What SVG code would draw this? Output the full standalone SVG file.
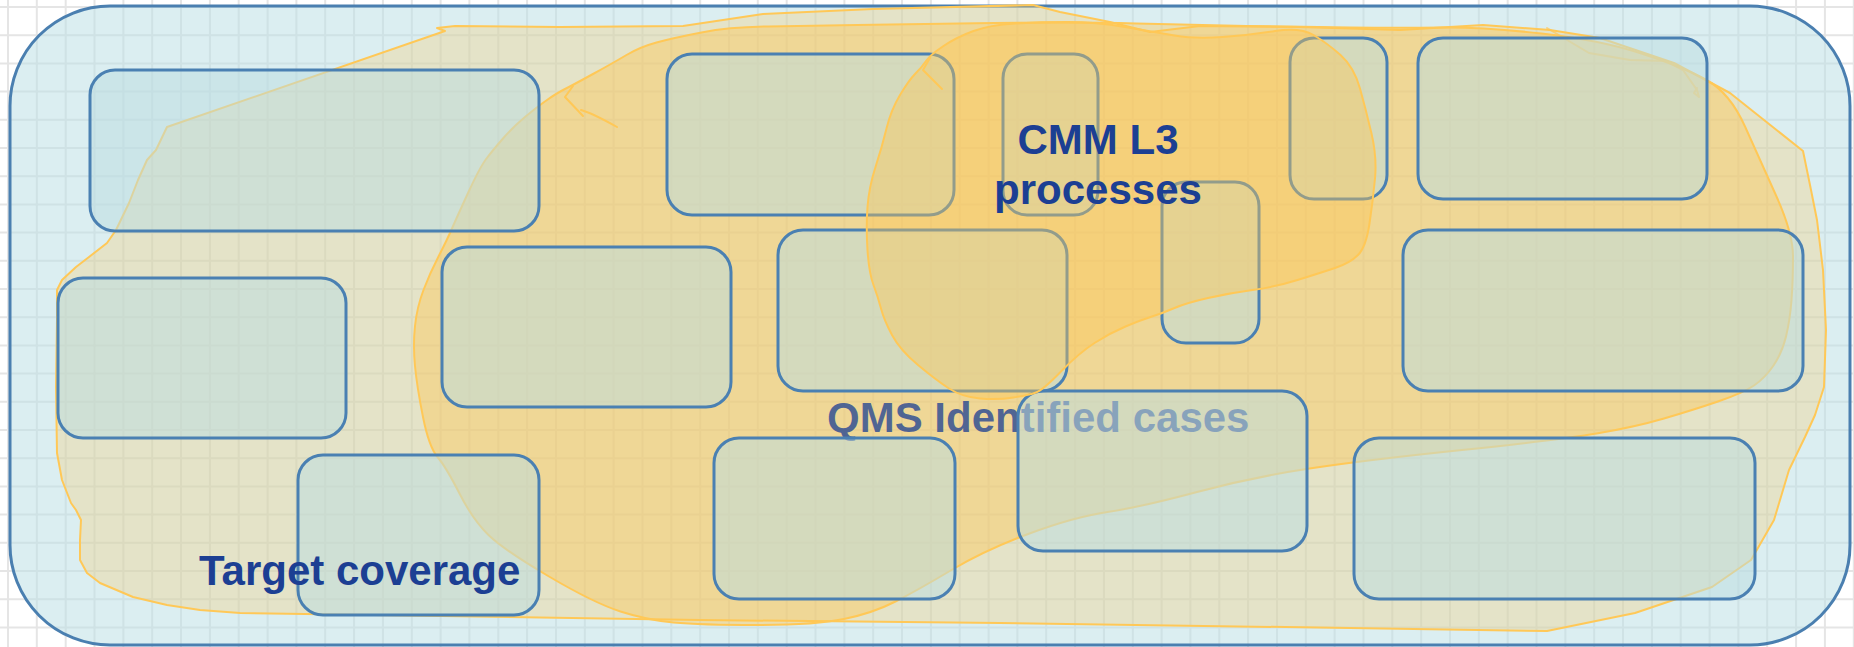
<svg xmlns="http://www.w3.org/2000/svg" width="1854" height="647" viewBox="0 0 1854 647">
<style>
.grid{fill:none;stroke:#e5e5e5;stroke-width:2}
.container{fill:#badee4;fill-opacity:0.52;stroke:#4a7fb0;stroke-width:3}
.node{fill:#bcdde0;fill-opacity:0.52;stroke:#4a80b2;stroke-width:3}
.blob{fill:#ffc550;stroke:#ffc857;stroke-width:2;stroke-linejoin:round;stroke-linecap:round}
.line{fill:none;stroke:#ffc857;stroke-width:2;stroke-linejoin:round;stroke-linecap:round}
.lbl{font-family:"Liberation Sans",Arial,sans-serif;font-weight:bold;font-size:42px;fill:#1c3f93}
</style>
<rect width="1854" height="647" fill="#ffffff"/>
<path class="grid" d="M8 0V647M36.8 0V647M65.7 0V647M94.5 0V647M123.4 0V647M152.2 0V647M181 0V647M209.9 0V647M238.7 0V647M267.6 0V647M296.4 0V647M325.2 0V647M354.1 0V647M382.9 0V647M411.8 0V647M440.6 0V647M469.4 0V647M498.3 0V647M527.1 0V647M556 0V647M584.8 0V647M613.6 0V647M642.5 0V647M671.3 0V647M700.2 0V647M729 0V647M757.8 0V647M786.7 0V647M815.5 0V647M844.4 0V647M873.2 0V647M902 0V647M930.9 0V647M959.7 0V647M988.6 0V647M1017.4 0V647M1046.2 0V647M1075.1 0V647M1103.9 0V647M1132.8 0V647M1161.6 0V647M1190.4 0V647M1219.3 0V647M1248.1 0V647M1277 0V647M1305.8 0V647M1334.6 0V647M1363.5 0V647M1392.3 0V647M1421.2 0V647M1450 0V647M1478.8 0V647M1507.7 0V647M1536.5 0V647M1565.4 0V647M1594.2 0V647M1623 0V647M1651.9 0V647M1680.7 0V647M1709.6 0V647M1738.4 0V647M1767.2 0V647M1796.1 0V647M1824.9 0V647M1853.8 0V647
M0 7H1854M0 35.2H1854M0 63.4H1854M0 91.6H1854M0 119.8H1854M0 148H1854M0 176.2H1854M0 204.4H1854M0 232.6H1854M0 260.8H1854M0 289H1854M0 317.2H1854M0 345.4H1854M0 373.6H1854M0 401.8H1854M0 430H1854M0 458.2H1854M0 486.4H1854M0 514.6H1854M0 542.8H1854M0 571H1854M0 599.2H1854M0 627.4H1854"/>
<g id="container">
<rect class="container" x="10" y="6" width="1840" height="639" rx="100" ry="100"/>
</g>
<g id="target-coverage-area">
<path class="blob" fill-opacity="0.25" d="M437,28 L455,26 L560,27 L683,26 L763,14 L873,9 L1033,5 L1060,12 L1110,22 L1150,32 L1200,26 L1300,27 L1400,30 L1483,25 L1550,30 L1600,38 L1674,63 L1730,93 L1803,151 L1810,185 L1817,220 L1823,270 L1826,330 L1824,387 L1815,415 L1805,437 L1789,470 L1774,520 L1751,560 L1712,587 L1635,613 L1547,631 L1350,628 L1000,623 L700,620 L240,613 L200,610 L167,605 L133,597 L100,583 L87,573 L80,560 L80,540 L81,520 L76,510 L71,503 L62,480 L57,453 L56,387 L57,320 L57,290 L62,280 L76,267 L89,257 L107,243 L116,230 L129,203 L138,180 L147,160 L156,150 L167,127 L445,31 Z"/>
<path class="line" stroke-opacity="0.7" d="M1547,28 L1589,53 L1630,60 L1666,61 L1683,70 L1697,90 L1699,97 L1694,93 L1697,88"/>
</g>
<g id="qms-area">
<path class="blob" fill-opacity="0.42" d="M626.5,55 Q640,47 656.5,42.5 Q673,38 701.5,32.5 Q730,27 768.5,26.5 Q807,26 857,25 Q907,24 993.5,23 Q1080,22 1136.5,23.5 Q1193,25 1246.5,26 Q1300,27 1350,27.5 Q1400,28 1441.5,27.5 Q1483,27 1541.5,33.5 Q1600,40 1641.5,53.5 Q1683,67 1706.5,80 Q1730,93 1745,126.5 Q1760,160 1776.5,196.5 Q1793,233 1793,256.5 Q1793,280 1791.5,300 Q1790,320 1786,336.5 Q1782,353 1773.5,365.5 Q1765,378 1754,385.5 Q1743,393 1718,401.5 Q1693,410 1664,418.5 Q1635,427 1596.5,433.5 Q1558,440 1462,450 Q1366,460 1309.5,468.5 Q1253,477 1197,492 Q1141,507 1107.5,512 Q1074,517 1029.5,533.5 Q985,550 951.5,570 Q918,590 895.5,601.5 Q873,613 844,619 Q815,625 757.5,625 Q700,625 673.5,622.5 Q647,620 620.5,611.5 Q594,603 549,576.5 Q504,550 488.5,535 Q473,520 459.5,493.5 Q446,467 437.5,457 Q429,447 423,417 Q417,387 415,366 Q413,345 415,326 Q417,307 423.5,290 Q430,273 438.5,256.5 Q447,240 452,228.5 Q457,217 468.5,192 Q480,167 486.5,158.5 Q493,150 503,138.5 Q513,127 525,117 Q537,107 547,100 Q557,93 565,89 Q573,85 593,74 Q613,63 626.5,55 Z"/>
<path class="line" d="M573,86 L565,97 L583,116 M581,110 Q592,113 617,127"/>
<text class="lbl" x="827" y="432" fill-opacity="0.75">QMS Identified cases</text>
</g>
<g id="node1"><rect class="node" x="90" y="70" width="449" height="161" rx="25"/></g>
<g id="node2"><rect class="node" x="58" y="278" width="288" height="160" rx="25"/></g>
<g id="node3"><rect class="node" x="298" y="455" width="241" height="160" rx="25"/></g>
<g id="node4"><rect class="node" x="442" y="247" width="289" height="160" rx="25"/></g>
<g id="node5"><rect class="node" x="667" y="54" width="287" height="161" rx="25"/></g>
<g id="node6"><rect class="node" x="1003" y="54" width="95" height="161" rx="24"/></g>
<g id="node7"><rect class="node" x="778" y="230" width="289" height="161" rx="25"/></g>
<g id="node8"><rect class="node" x="1162" y="182" width="97" height="161" rx="24"/></g>
<g id="node9"><rect class="node" x="1290" y="38" width="97" height="161" rx="24"/></g>
<g id="node10"><rect class="node" x="1418" y="38" width="289" height="161" rx="25"/></g>
<g id="node11"><rect class="node" x="1403" y="230" width="400" height="161" rx="25"/></g>
<g id="node12"><rect class="node" x="1018" y="391" width="289" height="160" rx="25"/></g>
<g id="node13"><rect class="node" x="714" y="438" width="241" height="161" rx="25"/></g>
<g id="node14"><rect class="node" x="1354" y="438" width="401" height="161" rx="25"/></g>
<g id="cmm-area">
<path class="blob" fill-opacity="0.4" d="M926,61 Q930,55 943.5,46 Q957,37 973.5,31 Q990,25 1015,23.5 Q1040,22 1068,22 Q1096,22 1125,27 Q1154,32 1174.5,35.5 Q1195,39 1222.5,37 Q1250,35 1275,31 Q1300,27 1313.5,35 Q1327,43 1340.5,55 Q1354,67 1360,88.5 Q1366,110 1371.5,133.5 Q1377,157 1375,178.5 Q1373,200 1369.5,223.5 Q1366,247 1358,255 Q1350,263 1335,268 Q1320,273 1297.5,280 Q1275,287 1252.5,290 Q1230,293 1208,298 Q1186,303 1174.5,308 Q1163,313 1152,316.5 Q1141,320 1125.5,326.5 Q1110,333 1094.5,343 Q1079,353 1061,371.5 Q1043,390 1036,392.5 Q1029,395 1013.5,397.5 Q998,400 980,398.5 Q962,397 949,388.5 Q936,380 918,365 Q900,350 892,335 Q884,320 881,308.5 Q878,297 873.5,285 Q869,273 867.5,250 Q866,227 867.5,207 Q869,187 875.5,167 Q882,147 886.5,128.5 Q891,110 900,95 Q909,80 915.5,73.5 Q922,67 926,61 Z"/>
<path class="line" d="M930,58 L923,70 L942,89"/>
<text class="lbl" x="1098" y="154" text-anchor="middle">CMM L3</text>
<text class="lbl" x="1098" y="204" text-anchor="middle">processes</text>
</g>
<g id="target-label">
<text class="lbl" x="199" y="585">Target coverage</text>
</g>
</svg>
